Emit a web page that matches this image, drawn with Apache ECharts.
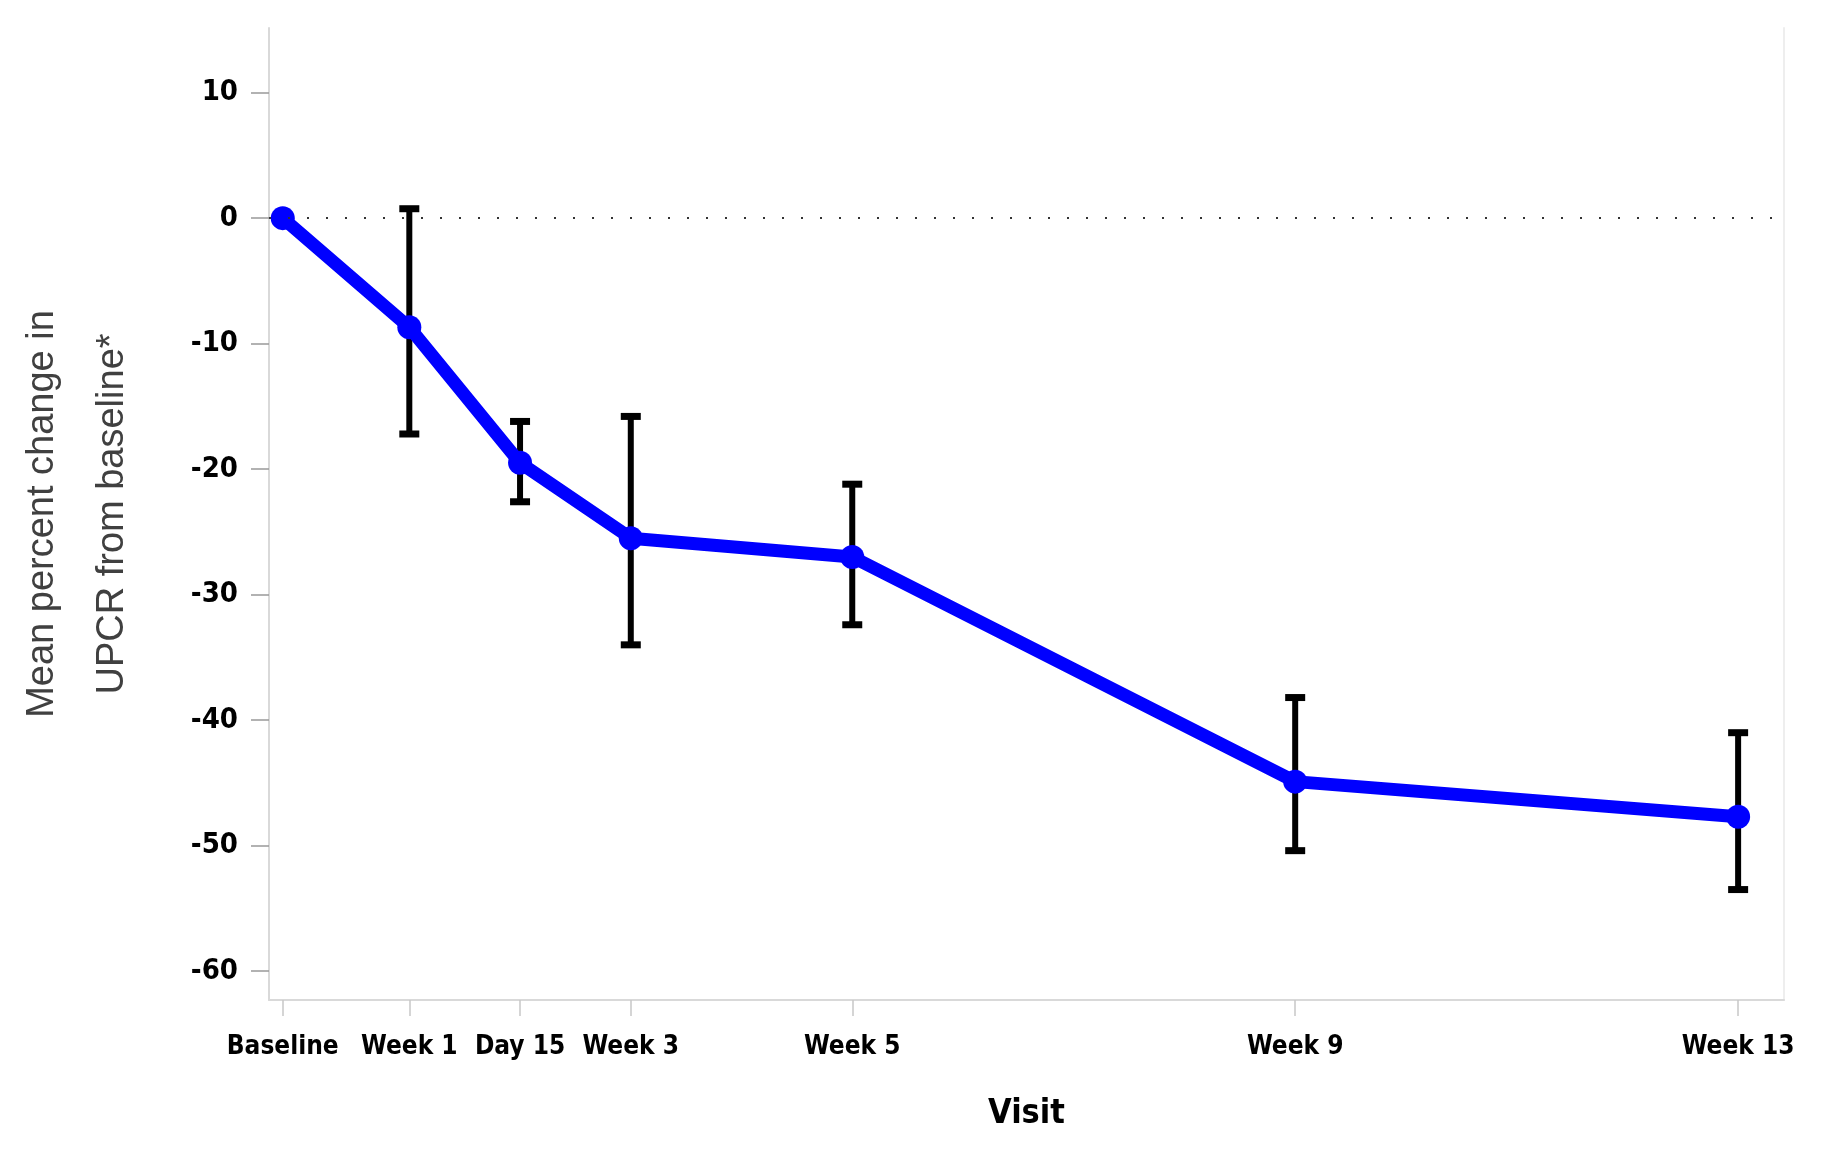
<!DOCTYPE html>
<html><head><meta charset="utf-8">
<script src="https://cdn.jsdelivr.net/npm/echarts@6/dist/echarts.min.js"></script>
<style>html,body{margin:0;padding:0;background:#fff}#c{width:1824px;height:1166px}</style>
</head><body><div id="c"></div>
<script>
const visitLabels = ['Baseline', 'Week 1', 'Day 15', 'Week 3', 'Week 5', 'Week 9', 'Week 13'];
const visitDays = [0, 8, 15, 22, 36, 64, 92];
const meanChange = [0, -8.7, -19.5, -25.5, -27.0, -44.9, -47.7];
const errUpper = [null, 0.75, -16.2, -15.8, -21.2, -38.2, -41.0];
const errLower = [null, -17.2, -22.6, -34.0, -32.4, -50.4, -53.5];
const yTicks = [-60, -50, -40, -30, -20, -10, 0, 10];

const lineData = visitDays.map((d, i) => [d, meanChange[i]]);
const errData = [];
visitDays.forEach((d, i) => { if (errUpper[i] !== null) errData.push([d, errLower[i], errUpper[i]]); });

const FONT = "'Liberation Sans Narrow', 'DejaVu Sans Condensed', sans-serif";
const chart = echarts.init(document.getElementById('c'), null, {renderer: 'canvas'});
chart.setOption({
  backgroundColor: '#fff',
  animation: false,
  grid: {left: 268, right: 40, top: 28, bottom: 166},
  xAxis: {
    type: 'value', min: -0.87, max: 94.9,
    name: 'Visit', nameLocation: 'middle', nameGap: 97,
    nameTextStyle: {fontFamily: FONT, fontWeight: 'bold', fontSize: 34, color: '#000'},
    axisLine: {show: true, onZero: false, lineStyle: {color: '#d9d9d9', width: 2}},
    axisTick: {show: true, customValues: visitDays, length: 16, lineStyle: {color: '#c8c8c8', width: 1.5}},
    axisLabel: {customValues: visitDays, margin: 34, fontFamily: FONT, fontWeight: 'bold', fontSize: 26, color: '#000',
      formatter: v => { const k = visitDays.indexOf(Math.round(v)); return k >= 0 ? visitLabels[k] : ''; }},
    splitLine: {show: false}
  },
  yAxis: [{
    type: 'value', min: -62.3, max: 15.15,
    name: 'Mean percent change in\nUPCR from baseline*', nameLocation: 'middle', nameRotate: 90, nameGap: 121,
    nameTextStyle: {fontFamily: "'Liberation Sans', Arial, sans-serif", fontSize: 38, color: '#404040', lineHeight: 70},
    axisLine: {show: true, onZero: false, lineStyle: {color: '#d9d9d9', width: 2}},
    axisTick: {show: true, customValues: yTicks, length: 18, lineStyle: {color: '#999', width: 1.5}},
    axisLabel: {customValues: yTicks, margin: 31, fontFamily: FONT, fontWeight: 'bold', fontSize: 29, color: '#000'},
    splitLine: {show: false}
  }, {
    type: 'value', min: -62.3, max: 15.15, position: 'right',
    axisLine: {show: true, onZero: false, lineStyle: {color: '#eeeeee', width: 2}},
    axisTick: {show: false}, axisLabel: {show: false}, splitLine: {show: false}
  }],
  series: [{
    type: 'custom', z: 2,
    data: errData,
    renderItem: (params, api) => {
      const x = api.value(0);
      const lo = api.coord([x, api.value(1)]);
      const hi = api.coord([x, api.value(2)]);
      const st = {fill: '#000'};
      return {type: 'group', children: [
        {type: 'line', shape: {x1: lo[0], y1: lo[1], x2: hi[0], y2: hi[1]}, style: {stroke: '#000', lineWidth: 6}},
        {type: 'rect', shape: {x: hi[0] - 10, y: hi[1] - 3.5, width: 20, height: 7}, style: st},
        {type: 'rect', shape: {x: lo[0] - 10, y: lo[1] - 3.5, width: 20, height: 7}, style: st}
      ]};
    }
  }, {
    type: 'line', z: 3,
    data: lineData,
    symbol: 'circle', symbolSize: 24,
    itemStyle: {color: '#0000ff'},
    lineStyle: {color: '#0000ff', width: 13},
    markLine: {
      silent: true, symbol: 'none', label: {show: false},
      lineStyle: {color: '#333', type: [2, 17], width: 2},
      data: [{yAxis: 0}]
    }
  }]
});
</script></body></html>
